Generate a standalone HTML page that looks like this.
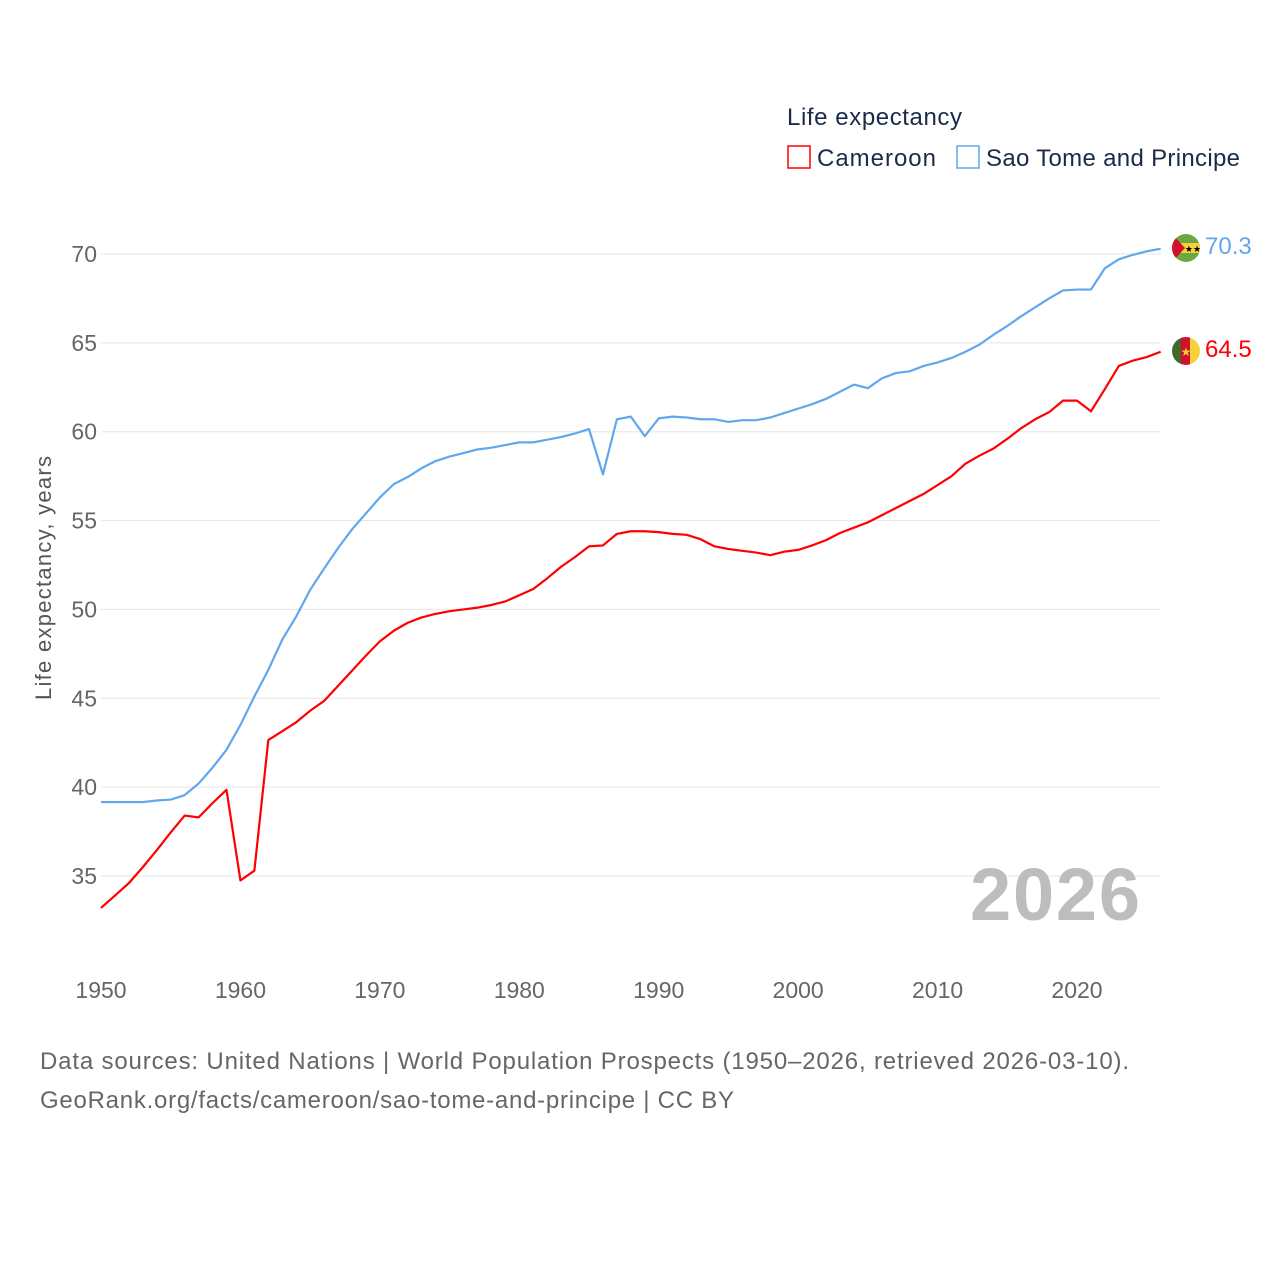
<!DOCTYPE html>
<html><head><meta charset="utf-8"><style>
body{margin:0;background:#fff;width:1280px;height:1280px;overflow:hidden;font-family:"Liberation Sans",sans-serif}
svg{display:block}
</style></head><body>
<svg id="chart" width="1280" height="1280" viewBox="0 0 1280 1280">
<g id="grid"></g>
<g id="yticks"></g>
<g id="xticks"></g>
<text transform="translate(51,578) rotate(-90)" text-anchor="middle" font-size="22" fill="#555" textLength="244">Life expectancy, years</text>
<text x="1140" y="920" text-anchor="end" font-size="74" font-weight="bold" fill="#bdbdbd" textLength="170">2026</text>
<g id="series"></g>
<g>
<text x="787" y="125" font-size="24" fill="#1a2b4a" textLength="175">Life expectancy</text>
<g>
<rect x="788" y="146" width="22" height="22" fill="#fff" stroke="#ff0000" stroke-width="1.5"/>
<text x="817" y="166" font-size="24" fill="#1a2b4a" textLength="119">Cameroon</text></g>
<g>
<rect x="957" y="146" width="22" height="22" fill="#fff" stroke="#5fa8ee" stroke-width="1.5"/>
<text x="986" y="166" font-size="24" fill="#1a2b4a" textLength="254">Sao Tome and Principe</text></g>
</g>
<defs>
<clipPath id="c1"><circle cx="1186" cy="248" r="14"/></clipPath>
<clipPath id="c2"><circle cx="1186" cy="351" r="14"/></clipPath>
</defs>
<g clip-path="url(#c1)">
<rect x="1172" y="234" width="28" height="28" fill="#6aa842"/>
<rect x="1172" y="243" width="28" height="10" fill="#f6d23a"/>
<polygon points="1172,234 1185,248 1172,262" fill="#d2102c"/>
<text x="1193" y="252" font-size="9" text-anchor="middle" fill="#000">★★</text>
</g>
<g clip-path="url(#c2)">
<rect x="1172" y="337" width="10" height="28" fill="#3f6a2a"/>
<rect x="1181" y="337" width="10" height="28" fill="#d2102c"/>
<rect x="1190" y="337" width="10" height="28" fill="#f6d23a"/>
<text x="1186" y="356" font-size="12" text-anchor="middle" fill="#f6d23a">★</text>
</g>
<text x="1205" y="254" font-size="24" fill="#5fa8ee">70.3</text>
<text x="1205" y="357" font-size="24" fill="#ff0000">64.5</text>
<text x="40" y="1069" font-size="24" fill="#666" textLength="1089">Data sources: United Nations | World Population Prospects (1950–2026, retrieved 2026-03-10).</text>
<text x="40" y="1108" font-size="24" fill="#666" textLength="694">GeoRank.org/facts/cameroon/sao-tome-and-principe | CC BY</text>
</svg>
<script>
const years=[];for(let y=1950;y<=2026;y++)years.push(y);
const yTicks=[35,40,45,50,55,60,65,70];
const xTicks=[1950,1960,1970,1980,1990,2000,2010,2020];
const cameroon=[33.2,33.9,34.6,35.5,36.45,37.45,38.4,38.3,39.1,39.85,34.75,35.3,42.65,43.15,43.65,44.3,44.85,45.7,46.55,47.4,48.2,48.8,49.25,49.55,49.75,49.9,50.0,50.1,50.25,50.45,50.8,51.15,51.75,52.4,52.95,53.55,53.6,54.25,54.4,54.4,54.35,54.25,54.2,53.95,53.55,53.4,53.3,53.2,53.05,53.25,53.35,53.6,53.9,54.3,54.6,54.9,55.3,55.7,56.1,56.5,57.0,57.5,58.2,58.65,59.05,59.6,60.2,60.7,61.1,61.75,61.75,61.15,62.4,63.7,64.0,64.2,64.5];
const saoTome=[39.16,39.16,39.16,39.16,39.25,39.3,39.55,40.2,41.1,42.1,43.5,45.1,46.6,48.3,49.6,51.1,52.3,53.45,54.5,55.4,56.3,57.05,57.45,57.95,58.35,58.6,58.8,59.0,59.1,59.25,59.4,59.4,59.55,59.7,59.9,60.15,57.6,60.7,60.85,59.75,60.75,60.85,60.8,60.7,60.7,60.55,60.65,60.65,60.8,61.05,61.3,61.55,61.85,62.25,62.65,62.45,63.0,63.3,63.4,63.7,63.9,64.15,64.5,64.9,65.45,65.95,66.5,67.0,67.5,67.95,68.0,68.0,69.2,69.7,69.95,70.15,70.3];
const NS='http://www.w3.org/2000/svg';
const X=y=>101+(y-1950)*(1077-101)/70;
const Y=v=>254+(70-v)*(876-254)/35;
const grid=document.getElementById('grid'),yt=document.getElementById('yticks'),xt=document.getElementById('xticks'),ser=document.getElementById('series');
yTicks.forEach(t=>{
const l=document.createElementNS(NS,'line');


l.setAttribute('x1',101);l.setAttribute('x2',1161);l.setAttribute('y1',Y(t));l.setAttribute('y2',Y(t));
l.setAttribute('stroke','#e6e6e6');l.setAttribute('stroke-width','1');grid.appendChild(l);
const tx=document.createElementNS(NS,'text');


tx.setAttribute('x',97);tx.setAttribute('y',Y(t)+8);tx.setAttribute('text-anchor','end');
tx.setAttribute('font-size','23');tx.setAttribute('fill','#666');tx.textContent=t;yt.appendChild(tx);
});
xTicks.forEach(t=>{
const tx=document.createElementNS(NS,'text');


tx.setAttribute('x',X(t));tx.setAttribute('y',998);tx.setAttribute('text-anchor','middle');
tx.setAttribute('font-size','23');tx.setAttribute('fill','#666');tx.textContent=t;xt.appendChild(tx);
});
function line(vals,color,name){
const p=document.createElementNS(NS,'polyline');


p.setAttribute('points',vals.map((v,i)=>X(years[i])+','+Y(v)).join(' '));
p.setAttribute('fill','none');p.setAttribute('stroke',color);p.setAttribute('stroke-width','2.2');
p.setAttribute('stroke-linejoin','round');ser.appendChild(p);
}
line(saoTome,'#5fa8ee','line-sao-tome');
line(cameroon,'#ff0000','line-cameroon');
</script>
</body></html>
